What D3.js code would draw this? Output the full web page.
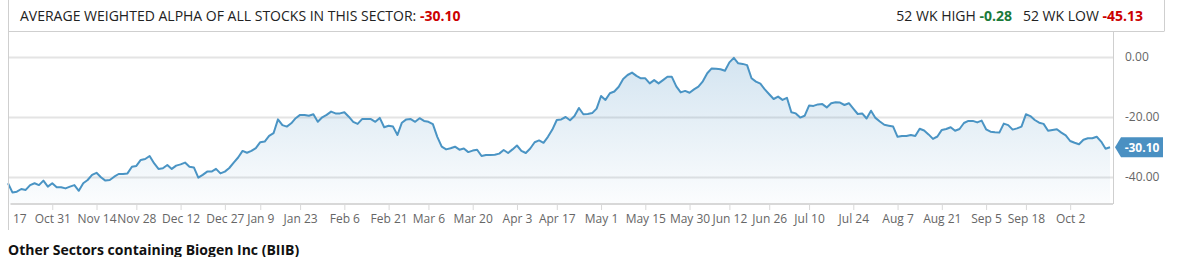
<!DOCTYPE html>
<html><head><meta charset="utf-8">
<script src="https://cdn.jsdelivr.net/npm/d3@7"></script>
<style>
html,body{margin:0;padding:0;background:#fff;}
svg{display:block;font-family:"Open Sans",sans-serif;}
</style></head>
<body>
<svg id="c" width="1201" height="257"></svg>
<script>
// ---- data ----
const values = [
-42.1,-45.13,-44.9,-44.0,-44.3,-42.7,-42.1,-42.7,-41.2,-43.2,
-42.1,-43.4,-43.4,-43.8,-43.2,-42.7,-44.6,-42.1,-41.0,-39.3,
-38.6,-40.1,-41.2,-41.0,-39.9,-39.0,-39.0,-38.8,-36.6,-36.3,
-34.3,-34.0,-33.0,-35.4,-37.3,-37.1,-36.0,-37.3,-36.2,-35.8,
-35.2,-36.6,-36.8,-40.2,-39.3,-38.2,-38.2,-37.3,-38.8,-38.2,
-37.0,-35.2,-33.5,-31.3,-31.9,-31.3,-30.4,-28.4,-28.2,-26.3,
-25.4,-20.8,-22.7,-23.2,-22.1,-20.4,-19.3,-19.3,-19.6,-19.1,
-21.6,-20.1,-19.3,-18.2,-18.8,-18.8,-18.4,-19.9,-21.6,-22.3,
-20.7,-20.7,-20.7,-21.6,-20.3,-23.4,-22.9,-23.2,-26.0,-21.9,
-20.8,-20.7,-21.6,-20.4,-21.3,-21.6,-22.4,-26.6,-29.9,-30.8,
-30.4,-29.9,-30.9,-30.5,-31.7,-31.2,-30.9,-33.0,-32.7,-32.7,
-32.6,-32.2,-31.0,-32.0,-30.8,-29.5,-31.3,-32.0,-30.5,-28.4,
-27.8,-28.6,-26.6,-24.2,-21.0,-20.8,-20.0,-21.1,-19.7,-17.0,
-19.1,-19.0,-18.7,-17.2,-13.0,-14.3,-12.1,-11.5,-9.9,-7.3,
-6.0,-5.2,-6.3,-7.1,-7.1,-8.8,-7.7,-8.8,-7.7,-6.6,
-6.6,-9.8,-11.8,-11.3,-11.9,-10.8,-9.9,-8.1,-5.4,-3.8,
-3.9,-4.1,-4.6,-1.8,-0.28,-2.1,-2.3,-2.7,-7.1,-8.2,
-8.9,-10.8,-12.4,-14.0,-13.2,-14.3,-13.6,-18.4,-18.8,-20.2,
-19.6,-16.2,-16.3,-15.8,-15.7,-16.8,-15.4,-15.1,-15.2,-16.0,
-15.4,-17.2,-19.0,-18.8,-20.5,-17.9,-20.3,-21.5,-22.6,-22.9,
-23.2,-26.6,-26.3,-26.3,-26.0,-26.3,-23.9,-24.5,-25.8,-27.3,
-26.5,-24.3,-24.0,-23.4,-24.6,-24.0,-22.0,-21.3,-21.3,-21.8,
-21.2,-24.1,-24.9,-25.1,-25.2,-22.2,-22.7,-24.2,-23.8,-23.2,
-19.1,-19.7,-21.0,-21.9,-22.3,-24.6,-24.3,-24.1,-25.2,-26.1,
-28.0,-28.6,-29.1,-27.6,-27.1,-27.1,-26.6,-28.2,-30.6,-30.10
];
// trading-day index of each date tick
const tickIndex = [0,10,20,29,39,49,57,66,76,86,95,105,115,124,134,144,154,163,172,181,191,201,211,221,230,240];
const tickLabels = ["Oct 17","Oct 31","Nov 14","Nov 28","Dec 12","Dec 27","Jan 9","Jan 23","Feb 6","Feb 21","Mar 6","Mar 20","Apr 3","Apr 17","May 1","May 15","May 30","Jun 12","Jun 26","Jul 10","Jul 24","Aug 7","Aug 21","Sep 5","Sep 18","Oct 2"];
const yTicks = [0,-20,-40];
const titleText = "AVERAGE WEIGHTED ALPHA OF ALL STOCKS IN THIS SECTOR: ";
const currentValue = -30.10;
const high52 = -0.28;
const low52 = -45.13;
const footerText = "Other Sectors containing Biogen Inc (BIIB)";

// ---- layout ----
const svg = d3.select("#c");
const L = 8, R = 1113, T = 31, B = 204;
const x = d3.scaleLinear().domain([0, values.length - 1]).range([L, 1110]);
const y = d3.scaleLinear().domain([0, -40]).range([57, 177]);
const fmt = v => v.toFixed(2);

const defs = svg.append("defs");
const grad = defs.append("linearGradient").attr("id","fillg")
  .attr("gradientUnits","userSpaceOnUse").attr("x1",0).attr("x2",0).attr("y1",y(0)).attr("y2",B);
grad.append("stop").attr("offset","0%").attr("stop-color","#4a90c2").attr("stop-opacity",0.24);
grad.append("stop").attr("offset","100%").attr("stop-color","#4a90c2").attr("stop-opacity",0.02);
defs.append("clipPath").attr("id","xclip").append("rect").attr("x",L + 2.5).attr("y",B - 2).attr("width",1201-L).attr("height",40);

// header frame
const border = "#cfcfcf";
svg.append("line").attr("x1",L).attr("x2",1164).attr("y1",T+0.5).attr("y2",T+0.5).attr("stroke",border);
svg.append("line").attr("x1",1164.5).attr("x2",1164.5).attr("y1",0).attr("y2",T+0.5).attr("stroke",border);

// title
const t1 = svg.append("text").attr("x",20).attr("y",21).attr("font-size",14).attr("fill","#222");
t1.append("tspan").text(titleText);
t1.append("tspan").attr("fill","#cc0000").attr("font-weight","bold").text(fmt(currentValue));

const t2 = svg.append("text").attr("x",1143).attr("y",21).attr("font-size",14).attr("fill","#222").attr("text-anchor","end");
t2.append("tspan").text("52 WK HIGH ");
t2.append("tspan").attr("fill","#1b7a3a").attr("font-weight","bold").text(fmt(high52));
t2.append("tspan").text("\u00a0\u00a0 52 WK LOW ");
t2.append("tspan").attr("fill","#cc0000").attr("font-weight","bold").text(fmt(low52));

// gridlines
svg.append("g").attr("transform",`translate(${R},0)`)
  .call(d3.axisLeft(y).tickValues(yTicks).tickSize(R-L).tickFormat(""))
  .call(g => g.select(".domain").remove())
  .call(g => g.selectAll("line").attr("stroke","#e4e4e4").attr("stroke-width",2));

// area + line
const area = d3.area().x((d,i)=>x(i)).y0(B).y1(d=>y(d));
svg.append("path").datum(values).attr("d",area).attr("fill","url(#fillg)");
const line = d3.line().x((d,i)=>x(i)).y(d=>y(d));
svg.append("path").datum(values).attr("d",line).attr("fill","none")
  .attr("stroke","#4a94c4").attr("stroke-width",2).attr("stroke-linejoin","round");

// right axis line
svg.append("line").attr("x1",R+0.5).attr("x2",R+0.5).attr("y1",T).attr("y2",B).attr("stroke",border);

// y axis labels
svg.append("g").attr("transform",`translate(${R},0)`)
  .call(d3.axisRight(y).tickValues(yTicks).tickSize(0).tickPadding(12).tickFormat(fmt))
  .call(g => g.select(".domain").remove())
  .call(g => g.selectAll("text").attr("font-family","Open Sans").attr("font-size",12).attr("fill","#666"));

// x axis (clipped at the chart's left border, like the reference)
const xClipG = svg.append("g").attr("clip-path","url(#xclip)");
const xa = xClipG.append("g").attr("transform",`translate(0,${B})`)
  .call(d3.axisBottom(x).tickValues(tickIndex).tickSize(6).tickPadding(4).tickFormat((d,i)=>tickLabels[i]));
xa.select(".domain").attr("stroke","#d8d8d8").attr("stroke-width",2).attr("d",`M${L},0H${R}`);
xa.selectAll("line").attr("stroke","#d8d8d8");
xa.selectAll("text").attr("font-family","Open Sans").attr("font-size",12).attr("fill","#666");

// left frame border (drawn over the axis start)
svg.append("line").attr("x1",L+0.5).attr("x2",L+0.5).attr("y1",0).attr("y2",230).attr("stroke",border);

// current value badge
const cy = y(currentValue);
svg.append("path")
  .attr("d",`M${R+2},${cy} L${R+8},${cy-10} H1163 V${cy+10} H${R+8} Z`)
  .attr("fill","#4a90c2");
svg.append("text").attr("x",1142).attr("y",cy+4.5).attr("text-anchor","middle")
  .attr("font-size",12).attr("font-weight","bold").attr("fill","#fff").text(fmt(currentValue));

// footer
svg.append("text").attr("x",8).attr("y",255).attr("font-size",14).attr("font-weight","bold")
  .attr("fill","#111").text(footerText);
</script>
</body></html>
